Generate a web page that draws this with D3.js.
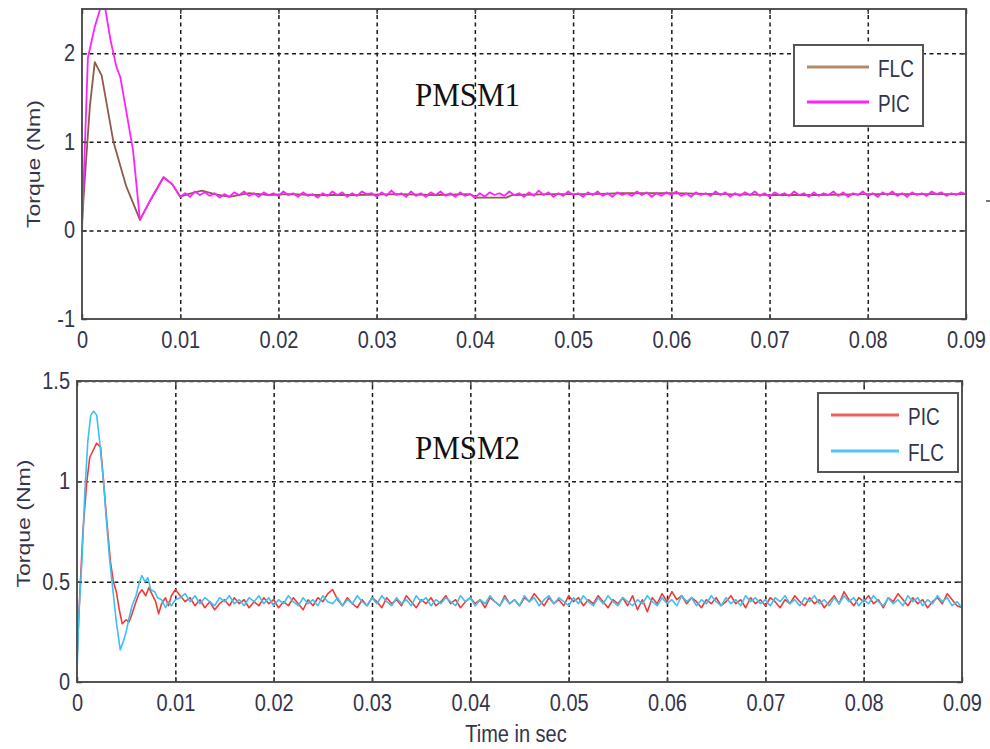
<!DOCTYPE html>
<html>
<head>
<meta charset="utf-8">
<script src="https://cdn.jsdelivr.net/npm/d3@7"></script>
<style>
  body { margin: 0; background: #fff; }
  svg { display: block; }
  text { font-family: "Liberation Sans", Arial, sans-serif; }
  text.serif { font-family: "Liberation Serif", "Times New Roman", serif; }
</style>
</head>
<body>
<svg id="chart" width="990" height="749"></svg>
<script>
// tick values / labels
const xTicks = [0, 0.01, 0.02, 0.03, 0.04, 0.05, 0.06, 0.07, 0.08, 0.09];
const xTickLabels = ["0", "0.01", "0.02", "0.03", "0.04", "0.05", "0.06", "0.07", "0.08", "0.09"];
const topYTicks = [-1, 0, 1, 2];
const topYLabels = ["-1", "0", "1", "2"];
const botYTicks = [0, 0.5, 1, 1.5];
const botYLabels = ["0", "0.5", "1", "1.5"];

// sampled steady part: first sample time and step
const steadyT0 = 0.0105, steadyDt = 0.0005;

// PMSM1 - FLC
const pmsm1FlcT = [0, 0.0003, 0.0008, 0.0013, 0.002, 0.0032, 0.0045, 0.0059, 0.007, 0.0083, 0.0092, 0.01,
  0.0108, 0.0122, 0.0135, 0.015, 0.017, 0.019, 0.021, 0.024, 0.028, 0.032, 0.036, 0.0395, 0.0402, 0.0432,
  0.0438, 0.048, 0.052, 0.055, 0.06, 0.065, 0.07, 0.075, 0.08, 0.085, 0.09];
const pmsm1FlcV = [0.1, 0.6, 1.4, 1.9, 1.75, 1.0, 0.5, 0.12, 0.35, 0.6, 0.52, 0.38,
  0.41, 0.45, 0.41, 0.38, 0.42, 0.40, 0.41, 0.40, 0.40, 0.41, 0.40, 0.41, 0.37, 0.37,
  0.40, 0.41, 0.41, 0.42, 0.42, 0.41, 0.40, 0.40, 0.41, 0.41, 0.41];

// PMSM1 - PIC
const pmsm1PicT = [0, 0.0006, 0.0013, 0.0019, 0.0023, 0.0029, 0.0035, 0.0039, 0.0045, 0.0052, 0.0059, 0.007, 0.0083, 0.0092, 0.01];
const pmsm1PicV = [0, 1.95, 2.3, 2.52, 2.55, 2.15, 1.85, 1.73, 1.35, 0.9, 0.12, 0.35, 0.6, 0.52, 0.38];
const pmsm1PicSteady = [
  0.42,0.38,0.44,0.40,0.43,0.39,0.42,0.37,0.41,0.38,0.43,0.40,0.44,0.39,0.42,0.38,0.43,0.40,0.42,0.39,
  0.44,0.40,0.42,0.38,0.43,0.39,0.41,0.37,0.42,0.39,0.44,0.40,0.43,0.38,0.42,0.39,0.44,0.41,0.42,0.38,
  0.43,0.39,0.45,0.40,0.42,0.38,0.44,0.39,0.42,0.38,0.43,0.40,0.44,0.39,0.42,0.38,0.43,0.39,0.41,0.37,
  0.42,0.38,0.43,0.40,0.42,0.39,0.44,0.40,0.42,0.38,0.43,0.39,0.45,0.40,0.43,0.38,0.42,0.39,0.44,0.40,
  0.42,0.38,0.43,0.40,0.44,0.39,0.42,0.38,0.43,0.40,0.42,0.39,0.44,0.40,0.43,0.38,0.42,0.39,0.43,0.40,
  0.44,0.39,0.42,0.38,0.43,0.40,0.42,0.39,0.44,0.40,0.43,0.38,0.42,0.39,0.43,0.40,0.44,0.39,0.42,0.38,
  0.43,0.40,0.42,0.39,0.44,0.40,0.42,0.38,0.43,0.39,0.42,0.40,0.44,0.39,0.43,0.38,0.42,0.40,0.44,0.39,
  0.42,0.38,0.43,0.40,0.44,0.39,0.42,0.38,0.43,0.40,0.42,0.39,0.44,0.41,0.43,0.39,0.42,0.40,0.43,0.41];

// PMSM2 - PIC
const pmsm2PicT = [0, 0.0003, 0.0006, 0.001, 0.0013, 0.0016, 0.002, 0.0024, 0.0027, 0.003, 0.0034, 0.0037, 0.004,
  0.0043, 0.0046, 0.005, 0.0053, 0.0056, 0.006, 0.0063, 0.0066, 0.007, 0.0073, 0.0076, 0.008, 0.0083, 0.0086,
  0.009, 0.0093, 0.0096, 0.01];
const pmsm2PicV = [0.12, 0.45, 0.75, 1.0, 1.12, 1.15, 1.19, 1.17, 1.0, 0.82, 0.6, 0.5, 0.45,
  0.36, 0.29, 0.31, 0.30, 0.34, 0.40, 0.44, 0.46, 0.43, 0.47, 0.44, 0.40, 0.34, 0.39,
  0.42, 0.38, 0.43, 0.46];
const pmsm2PicSteady = [
  0.43,0.40,0.42,0.38,0.41,0.37,0.40,0.36,0.39,0.41,0.38,0.42,0.39,0.41,0.37,0.40,0.38,0.42,0.39,0.41,
  0.37,0.40,0.38,0.42,0.39,0.36,0.41,0.38,0.42,0.40,0.44,0.46,0.41,0.38,0.42,0.39,0.37,0.41,0.38,0.42,
  0.40,0.37,0.42,0.39,0.41,0.38,0.43,0.40,0.37,0.41,0.39,0.42,0.38,0.40,0.43,0.39,0.41,0.37,0.40,0.42,
  0.39,0.41,0.37,0.42,0.40,0.38,0.43,0.39,0.41,0.38,0.42,0.40,0.44,0.41,0.38,0.42,0.39,0.41,0.38,0.43,
  0.40,0.42,0.38,0.41,0.39,0.43,0.40,0.37,0.41,0.39,0.42,0.38,0.43,0.36,0.41,0.35,0.42,0.39,0.44,0.40,
  0.45,0.41,0.43,0.39,0.42,0.40,0.37,0.41,0.39,0.42,0.38,0.40,0.43,0.39,0.41,0.37,0.42,0.39,0.41,0.38,
  0.42,0.40,0.37,0.41,0.39,0.43,0.40,0.38,0.42,0.39,0.41,0.37,0.40,0.43,0.39,0.45,0.41,0.38,0.42,0.40,
  0.43,0.39,0.41,0.37,0.42,0.40,0.44,0.41,0.38,0.42,0.39,0.41,0.37,0.40,0.42,0.39,0.44,0.41,0.38,0.37];

// PMSM2 - FLC
const pmsm2FlcT = [0, 0.0002, 0.0005, 0.0008, 0.0011, 0.0014, 0.0017, 0.002, 0.0023, 0.0027, 0.003, 0.0033,
  0.0036, 0.004, 0.0044, 0.0047, 0.005, 0.0053, 0.0056, 0.006, 0.0063, 0.0066, 0.0069, 0.0072, 0.0075,
  0.0079, 0.0082, 0.0086, 0.009, 0.0093, 0.0096, 0.01];
const pmsm2FlcV = [0.05, 0.35, 0.6, 0.95, 1.2, 1.33, 1.35, 1.33, 1.2, 1.0, 0.8, 0.62,
  0.48, 0.3, 0.16, 0.2, 0.25, 0.32, 0.38, 0.43, 0.49, 0.53, 0.50, 0.52, 0.46,
  0.45, 0.42, 0.41, 0.37, 0.40, 0.38, 0.41];
const pmsm2FlcSteady = [
  0.42,0.44,0.40,0.43,0.39,0.42,0.40,0.38,0.42,0.40,0.43,0.39,0.41,0.38,0.42,0.40,0.43,0.39,0.42,0.38,
  0.41,0.39,0.43,0.40,0.38,0.42,0.39,0.41,0.38,0.43,0.40,0.39,0.42,0.38,0.41,0.39,0.43,0.40,0.38,0.42,
  0.39,0.43,0.40,0.38,0.42,0.39,0.41,0.38,0.43,0.40,0.42,0.38,0.41,0.39,0.42,0.40,0.38,0.43,0.40,0.42,
  0.38,0.41,0.39,0.43,0.40,0.38,0.42,0.39,0.41,0.38,0.43,0.40,0.42,0.38,0.41,0.43,0.39,0.42,0.40,0.38,
  0.42,0.39,0.43,0.40,0.38,0.42,0.39,0.43,0.40,0.38,0.42,0.40,0.38,0.41,0.39,0.43,0.40,0.38,0.42,0.39,
  0.41,0.38,0.43,0.40,0.42,0.38,0.41,0.39,0.43,0.40,0.38,0.42,0.39,0.41,0.38,0.43,0.40,0.42,0.39,0.41,
  0.38,0.42,0.40,0.43,0.39,0.41,0.38,0.42,0.40,0.43,0.39,0.41,0.38,0.42,0.39,0.43,0.40,0.42,0.38,0.41,
  0.39,0.43,0.40,0.38,0.42,0.39,0.41,0.38,0.43,0.40,0.42,0.38,0.41,0.39,0.43,0.40,0.42,0.38,0.40,0.37];

function makeSeries(ts, vs, steady) {
  const pts = ts.map((t, i) => [t, vs[i]]);
  if (steady) steady.forEach((v, i) => pts.push([steadyT0 + i * steadyDt, v]));
  return pts;
}

const svg = d3.select("#chart");
svg.append("rect").attr("width", 990).attr("height", 749).attr("fill", "#fff");

const labelColor = "#34344a";

function drawPanel(p) {
  const x = d3.scaleLinear().domain([0, 0.09]).range([p.left, p.right]);
  const y = d3.scaleLinear().domain(p.yDomain).range([p.bottom, p.top]);
  const h = p.bottom - p.top, w = p.right - p.left;
  const g = svg.append("g");

  // dashed grid
  g.append("g").attr("transform", `translate(0,${p.bottom})`)
    .call(d3.axisBottom(x).tickValues(xTicks.slice(1, -1)).tickSize(-h).tickFormat(""))
    .call(s => s.select(".domain").remove())
    .selectAll("line").attr("stroke", "#1a1a1a").attr("stroke-width", 1.5).attr("stroke-dasharray", "4,3.5");
  g.append("g").attr("transform", `translate(${p.left},0)`)
    .call(d3.axisLeft(y).tickValues(p.yTicks.slice(1)).tickSize(-w).tickFormat(""))
    .call(s => s.select(".domain").remove())
    .selectAll("line").attr("stroke", "#1a1a1a").attr("stroke-width", 1.5).attr("stroke-dasharray", "4,3.5");

  // data lines
  const clipId = "clip" + p.id;
  svg.append("clipPath").attr("id", clipId).append("rect")
    .attr("x", p.left).attr("y", p.top).attr("width", w).attr("height", h);
  const line = d3.line().x(d => x(d[0])).y(d => y(d[1]));
  p.series.forEach(s => {
    g.append("path").datum(s.data).attr("clip-path", `url(#${clipId})`)
      .attr("fill", "none").attr("stroke", s.color).attr("stroke-width", p.lineWidth)
      .attr("stroke-linejoin", "round").attr("d", line);
  });

  // frame
  g.append("rect").attr("x", p.left).attr("y", p.top).attr("width", w).attr("height", h)
    .attr("fill", "none").attr("stroke", "#555").attr("stroke-width", 2);

  // ticks (inward) + labels
  const xAx = g.append("g").attr("transform", `translate(0,${p.bottom})`)
    .call(d3.axisBottom(x).tickValues(xTicks).tickSize(-5).tickFormat((d, i) => xTickLabels[i]));
  xAx.select(".domain").remove();
  xAx.selectAll("line").attr("stroke", "#444").attr("stroke-width", 1.5);
  xAx.selectAll("text").attr("fill", labelColor).attr("font-size", 20)
    .attr("dy", null).attr("y", 29 / 1.16).attr("transform", "scale(1,1.16)");

  const xTop = g.append("g").attr("transform", `translate(0,${p.top})`)
    .call(d3.axisTop(x).tickValues(xTicks).tickSize(-5).tickFormat(""));
  xTop.select(".domain").remove();
  xTop.selectAll("line").attr("stroke", "#444").attr("stroke-width", 1.5);

  const yAx = g.append("g").attr("transform", `translate(${p.left},0)`)
    .call(d3.axisLeft(y).tickValues(p.yTicks).tickSize(-5).tickFormat((d, i) => p.yLabels[i]));
  yAx.select(".domain").remove();
  yAx.selectAll("line").attr("stroke", "#444").attr("stroke-width", 1.5);
  yAx.selectAll("text").attr("fill", labelColor).attr("font-size", 20)
    .attr("x", -7).attr("transform", "scale(1,1.16)");

  const yR = g.append("g").attr("transform", `translate(${p.right},0)`)
    .call(d3.axisRight(y).tickValues(p.yTicks).tickSize(-5).tickFormat(""));
  yR.select(".domain").remove();
  yR.selectAll("line").attr("stroke", "#444").attr("stroke-width", 1.5);

  // y title
  g.append("g").attr("transform", `translate(${p.yTitleX},${(p.top + p.bottom) / 2 + p.yTitleDy}) rotate(-90)`)
    .append("text").attr("text-anchor", "middle").attr("font-size", 18).attr("fill", labelColor)
    .attr("transform", "scale(1.28,1)").text("Torque (Nm)");

  // panel name
  g.append("g").attr("transform", `translate(${p.nameX},${p.nameY})`)
    .append("text").attr("class", "serif")
    .attr("font-size", 31).attr("fill", "#111").attr("transform", "scale(1,1.06)").text(p.name);

  // legend
  const lg = g.append("g");
  lg.append("rect").attr("x", p.legend.x).attr("y", p.legend.y)
    .attr("width", p.legend.w).attr("height", p.legend.h)
    .attr("fill", "#fff").attr("stroke", "#555").attr("stroke-width", 2);
  p.series.forEach((s, i) => {
    const ly = p.legend.y + p.legend.firstRow + i * p.legend.rowGap;
    lg.append("line").attr("x1", p.legend.x + 13).attr("x2", p.legend.x + 13 + p.legend.lineLen)
      .attr("y1", ly).attr("y2", ly).attr("stroke", s.legendColor || s.color).attr("stroke-width", 3);
    lg.append("g").attr("transform", `translate(${p.legend.x + 22 + p.legend.lineLen},${ly + 10})`)
      .append("text").attr("font-size", 19).attr("fill", labelColor)
      .attr("transform", "scale(1,1.3)").text(s.name);
  });
}

drawPanel({
  id: 1, left: 82, right: 966, top: 9, bottom: 319,
  yDomain: [-1, 2.5], yTicks: topYTicks, yLabels: topYLabels,
  yTitleX: 40, yTitleDy: 0, lineWidth: 1.8,
  name: "PMSM1", nameX: 415, nameY: 106,
  legend: { x: 794, y: 45, w: 129, h: 81, firstRow: 22, rowGap: 35, lineLen: 62 },
  series: [
    { name: "FLC", color: "#8e5a4c", legendColor: "#b58a6a", data: makeSeries(pmsm1FlcT, pmsm1FlcV) },
    { name: "PIC", color: "#ff22ff", data: makeSeries(pmsm1PicT, pmsm1PicV, pmsm1PicSteady) }
  ]
});

drawPanel({
  id: 2, left: 77, right: 962, top: 381, bottom: 682,
  yDomain: [0, 1.5], yTicks: botYTicks, yLabels: botYLabels,
  yTitleX: 30, yTitleDy: -8, lineWidth: 1.6,
  name: "PMSM2", nameX: 415, nameY: 459,
  legend: { x: 818, y: 393, w: 140, h: 79, firstRow: 22, rowGap: 36, lineLen: 68 },
  series: [
    { name: "PIC", color: "#f23a3a", legendColor: "#f06060", data: makeSeries(pmsm2PicT, pmsm2PicV, pmsm2PicSteady) },
    { name: "FLC", color: "#3ec0f0", legendColor: "#55c4ee", data: makeSeries(pmsm2FlcT, pmsm2FlcV, pmsm2FlcSteady) }
  ]
});

// x axis title of lower panel
svg.append("g").attr("transform", "translate(516,742)")
  .append("text").attr("text-anchor", "middle").attr("font-size", 20).attr("fill", labelColor)
  .attr("transform", "scale(1,1.22)").text("Time in sec");

// small stray mark at right edge of the figure
svg.append("line").attr("x1", 986).attr("x2", 990).attr("y1", 201).attr("y2", 201)
  .attr("stroke", "#777").attr("stroke-width", 2);
</script>
</body>
</html>
